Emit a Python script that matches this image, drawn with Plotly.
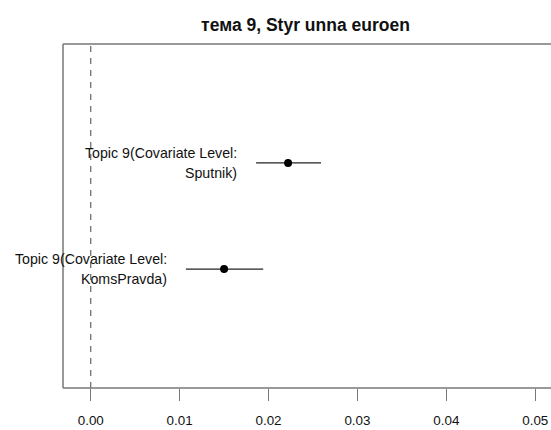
import plotly.graph_objects as go

title_text = "тема 9, Styr unna euroen"
covariate_levels = ["Sputnik", "KomsPravda"]
estimates = [0.0222, 0.0150]
ci_lower = [0.0186, 0.0107]
ci_upper = [0.0259, 0.0194]
label_prefix = "Topic 9(Covariate Level:"
x_ticks = [0.00, 0.01, 0.02, 0.03, 0.04, 0.05]

W, H = 551, 430
FONT = "Liberation Sans, Arial, Helvetica, sans-serif"
BOX = "#777"

fig = go.Figure()

for lvl, est, lo, hi in zip(covariate_levels, estimates, ci_lower, ci_upper):
    fig.add_trace(go.Scatter(
        x=[lo, hi], y=[lvl, lvl], mode="lines",
        line=dict(color="#222", width=1.4), showlegend=False, hoverinfo="skip"))
    fig.add_trace(go.Scatter(
        x=[est], y=[lvl], mode="markers",
        marker=dict(color="black", size=8), showlegend=False))
    for line_text, shift in ((label_prefix, 10), (f"{lvl})", -10)):
        fig.add_annotation(
            x=lo, y=lvl, xref="x", yref="y", xanchor="right", yanchor="middle",
            xshift=-17, yshift=shift, showarrow=False, align="right",
            text=line_text,
            font=dict(family=FONT, size=14.2, color="#111"))

# zero reference line
fig.add_shape(type="line", xref="x", yref="paper", x0=0, x1=0, y0=0, y1=1,
              line=dict(color="#666", width=1.2, dash="6px,6px"))
# plot box: left, top, bottom (right edge lies beyond the picture)
for x0, y0, x1, y1 in ((0, 0, 0, 1), (0, 1, 1.02, 1), (0, 0, 1.02, 0)):
    fig.add_shape(type="line", xref="paper", yref="paper", x0=x0, y0=y0, x1=x1, y1=y1,
                  line=dict(color=BOX, width=1.5))

px_per_unit = 8890.0
x_min = -0.00312
x_max = x_min + (W - 63) / px_per_unit

fig.update_layout(
    width=W, height=H,
    margin=dict(l=63, r=0, t=44, b=42, pad=0),
    paper_bgcolor="white", plot_bgcolor="rgba(0,0,0,0)",
    title=dict(text=f"<b>{title_text}</b>", x=305.5 / W, xanchor="center",
               y=1 - 25 / H, yanchor="middle",
               font=dict(family=FONT, size=17.5, color="#111")),
    xaxis=dict(
        range=[x_min, x_max], tickvals=x_ticks,
        ticktext=[f"{v:.2f}" for v in x_ticks],
        showgrid=False, zeroline=False, showline=False,
        ticks="outside", ticklen=12, tickcolor=BOX, tickwidth=1.2,
        ticklabelstandoff=8,
        tickfont=dict(family=FONT, size=13.4, color="#111"),
    ),
    yaxis=dict(
        type="category", categoryorder="array", categoryarray=covariate_levels,
        range=[2.12, -1.12], autorange=False,
        showticklabels=False, ticks="", showgrid=False, zeroline=False,
        showline=False,
    ),
)
fig.write_html("out.html", config={"displayModeBar": False, "responsive": False},
               default_width=f"{W}px", default_height=f"{H}px",
               post_script=(
                   "var de=document.documentElement, b=document.body;"
                   "de.style.overflow='hidden'; de.style.height='430px';"
                   "b.style.margin='0'; b.style.overflow='hidden'; b.style.height='430px';"
                   "var g=document.querySelector('.plotly-graph-div');"
                   "if(g){g.style.display='block'; g.style.overflow='hidden';"
                   "if(g.parentElement){g.parentElement.style.height='430px';"
                   "g.parentElement.style.overflow='hidden';}}"))
